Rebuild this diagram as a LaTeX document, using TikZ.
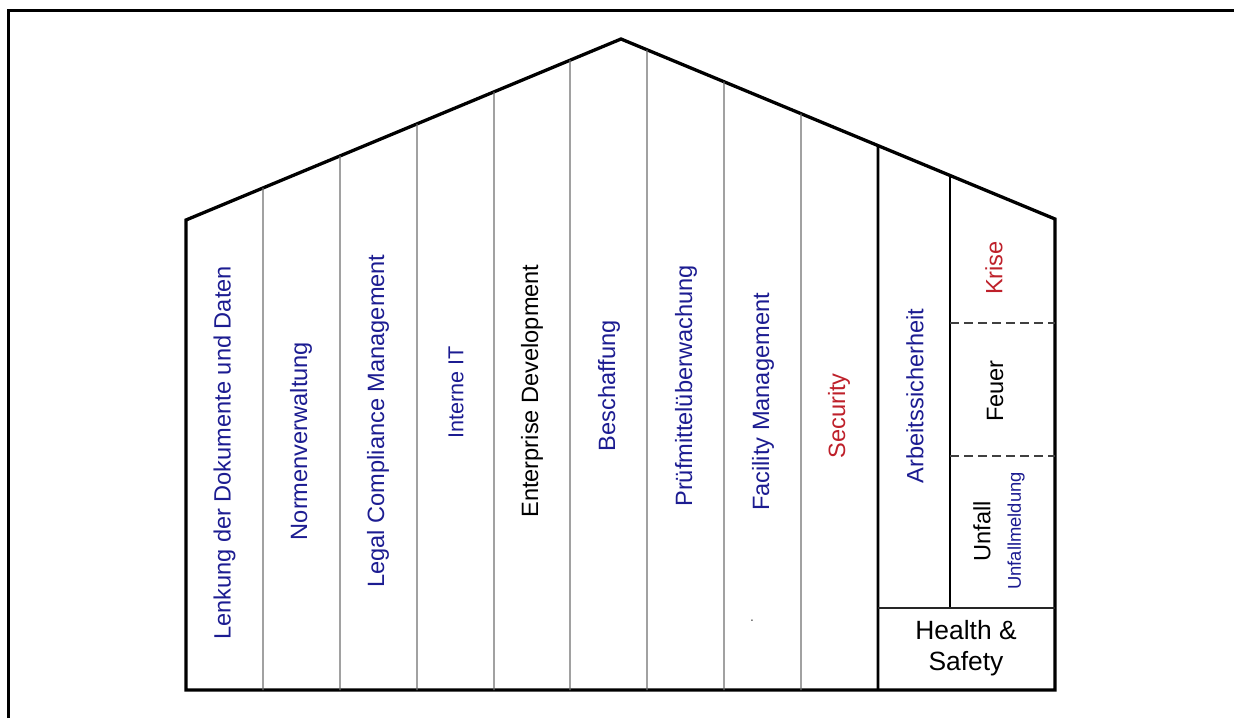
\documentclass[tikz,border=0pt]{standalone}
\usepackage{fontspec}
\setmainfont{Liberation Sans}
\definecolor{lblblue}{RGB}{28,28,145}
\definecolor{lblred}{RGB}{190,32,42}
\definecolor{divgray}{RGB}{110,110,110}

\begin{document}
\begin{tikzpicture}[x=0.5pt,y=-0.5pt,
  frame/.style={line width=1.5pt},
  wall/.style={line width=1.65pt, line join=miter},
  pillar/.style={draw=divgray, line width=0.65pt},
  mainsplit/.style={line width=1.35pt},
  subsplit/.style={line width=0.85pt},
  hsplit/.style={line width=1.1pt, draw=black!85},
  dashsplit/.style={draw=black!75, line width=0.65pt, dash pattern=on 4.5pt off 2.5pt},
  lbl/.style={rotate=90, inner sep=0pt, font=\fontsize{11.8}{14}\selectfont},
  blue lbl/.style={lbl, text=lblblue},
  red lbl/.style={lbl, text=lblred},
  black lbl/.style={lbl, text=black}]
\useasboundingbox (0,0) rectangle (1234,718);

% page frame (only left and top edges fall inside the page)
\draw[frame] (8.5,718) -- (8.5,10.5) -- (1234,10.5);

% house outline
\coordinate (baseL) at (186,690);
\coordinate (eaveL) at (186,220);
\coordinate (apex)  at (621,39);
\coordinate (eaveR) at (1055,219);
\coordinate (baseR) at (1055,690);
\draw[wall] (baseL) -- (eaveL) -- (apex) -- (eaveR) -- (baseR) -- cycle;

% pillars under the left roof slope
\foreach \x in {263,340,417,494,570}
  \draw[pillar] (intersection of eaveL--apex and {\x,0}--{\x,1}) -- (\x,690);
% pillars under the right roof slope
\foreach \x in {647,724,801}
  \draw[pillar] (intersection of apex--eaveR and {\x,0}--{\x,1}) -- (\x,690);

% Health & Safety wing
\coordinate (hsTop) at (intersection of apex--eaveR and {878,0}--{878,1});
\coordinate (subTop) at (intersection of apex--eaveR and {950,0}--{950,1});
\draw[mainsplit] (hsTop) -- (878,690);
\draw[subsplit] (subTop) -- (950,608);
\draw[hsplit] (878,608) -- (1055,608);
\draw[dashsplit] (950,323) -- (1055,323);
\draw[dashsplit] (950,456) -- (1055,456);

% pillar labels
\node[blue lbl]  (lenkung)  at (224.5,453) {Lenkung der Dokumente und Daten};
\node[blue lbl]  (normen)   at (301,441)   {Normenverwaltung};
\node[blue lbl]  (legal)    at (378,421)   {Legal Compliance Management};
\node[blue lbl, font=\fontsize{10.8}{13}\selectfont] (it) at (456,392) {Interne IT};
\node[black lbl] (enterp)   at (532,391)   {Enterprise Development};
\node[blue lbl]  (beschaff) at (609,386)   {Beschaffung};
\node[blue lbl]  (pruef)    at (686,386)   {Prüfmittelüberwachung};
\node[blue lbl]  (facility) at (763,402)   {Facility Management};
\node[red lbl]   (security) at (839,416)   {Security};
\node[blue lbl]  (arbeit)   at (915,396)   {Arbeitssicherheit};
\node[red lbl]   (krise)    at (994,268)   {Krise};
\node[black lbl] (feuer)    at (995,391)   {Feuer};
\node[black lbl] (unfall)   at (982,531)   {Unfall};
\node[blue lbl, font=\fontsize{9.2}{11}\selectfont] (meldung) at (1016,531) {Unfallmeldung};
\node[align=center, inner sep=0pt, font=\fontsize{13.2}{15.5}\selectfont] (hs) at (966,648) {Health \&\\Safety};
\node[inner sep=0pt, text=black!70, font=\fontsize{7}{8}\selectfont] (speck) at (752,621) {.};
\end{tikzpicture}
\end{document}
